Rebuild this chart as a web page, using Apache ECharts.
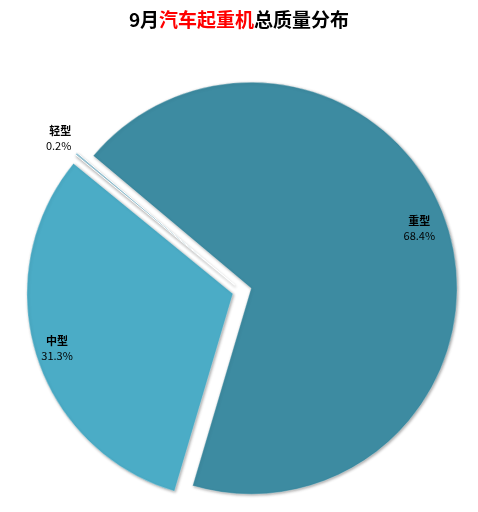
<!DOCTYPE html>
<html>
<head>
<meta charset="utf-8">
<script src="https://cdn.jsdelivr.net/npm/echarts@6/dist/echarts.min.js"></script>
<style>
  html, body { margin: 0; padding: 0; background: #fff; }
  #main { width: 478px; height: 512px; }
</style>
</head>
<body>
<div id="main"></div>
<script>
// 9月汽车起重机总质量分布
var categories = ['重型', '中型', '轻型'];
var shares = [68.4, 31.3, 0.2];
var colors = ['#3d8ba1', '#4bacc6', '#a3d2e3'];

var chart = echarts.init(document.getElementById('main'));

var font = '"Noto Sans CJK SC", "Noto Sans", sans-serif';
var richLabel = {
    n: { fontSize: 11, fontWeight: 'bold', color: '#000', lineHeight: 15, fontFamily: font },
    p: { fontSize: 11, color: '#000', lineHeight: 15, fontFamily: font }
};

function labelText(params) {
    return '{n|' + params.name + '}\n{p|' + params.value.toFixed(1) + '%}';
}

// 扇区本体（全部分离）
var pieData = [];
// 内部标签（透明环，标签落在外圈附近）
var labelData = [];
for (var i = 0; i < categories.length; i++) {
    var small = shares[i] < 1;
    pieData.push({
        name: categories[i],
        value: shares[i],
        selected: true,
        itemStyle: small ? {
            color: colors[i],
            borderColor: '#fff',
            borderWidth: 1,
            shadowBlur: 3,
            shadowOffsetX: 1,
            shadowOffsetY: 2,
            shadowColor: 'rgba(0,0,0,0.3)'
        } : { color: colors[i] },
        label: { show: small }
    });
    labelData.push({
        name: categories[i],
        value: shares[i],
        selected: true,
        label: { show: !small }
    });
}

var option = {
    backgroundColor: '#fff',
    animation: false,
    title: {
        text: '{a|9月}{b|汽车起重机}{a|总质量分布}',
        left: 'center',
        top: 5,
        textStyle: {
            rich: {
                a: { fontSize: 19, fontWeight: 'bold', color: '#000', fontFamily: font },
                b: { fontSize: 19, fontWeight: 'bold', color: '#ff0000', fontFamily: font }
            }
        }
    },
    series: [
        {
            type: 'pie',
            center: [242, 291],
            radius: [0, 206],
            startAngle: 140,
            clockwise: true,
            selectedMode: 'multiple',
            selectedOffset: 9.5,
            avoidLabelOverlap: false,
            emphasis: { disabled: true },
            itemStyle: {
                borderColor: 'rgba(255,255,255,0.6)',
                borderWidth: 0.5,
                shadowBlur: 3,
                shadowOffsetX: 1,
                shadowOffsetY: 1,
                shadowColor: 'rgba(0,0,0,0.35)'
            },
            label: {
                position: 'outside',
                formatter: labelText,
                rich: richLabel
            },
            labelLine: { show: false, length: 10, length2: 0 },
            labelLayout: { dx: 8, dy: -9 },
            data: pieData
        },
        {
            type: 'pie',
            center: [242, 291],
            radius: [156, 206],
            startAngle: 140,
            clockwise: true,
            selectedMode: 'multiple',
            selectedOffset: 9.5,
            silent: true,
            avoidLabelOverlap: false,
            emphasis: { disabled: true },
            itemStyle: { color: 'rgba(0,0,0,0)' },
            label: {
                position: 'inside',
                formatter: labelText,
                rich: richLabel
            },
            labelLine: { show: false },
            labelLayout: function (params) {
                // 重型标签在参考图中略靠上
                if (params.dataIndex === 0) {
                    return { dx: -8, dy: -7 };
                }
                return {};
            },
            data: labelData
        }
    ]
};

chart.setOption(option);
</script>
</body>
</html>
